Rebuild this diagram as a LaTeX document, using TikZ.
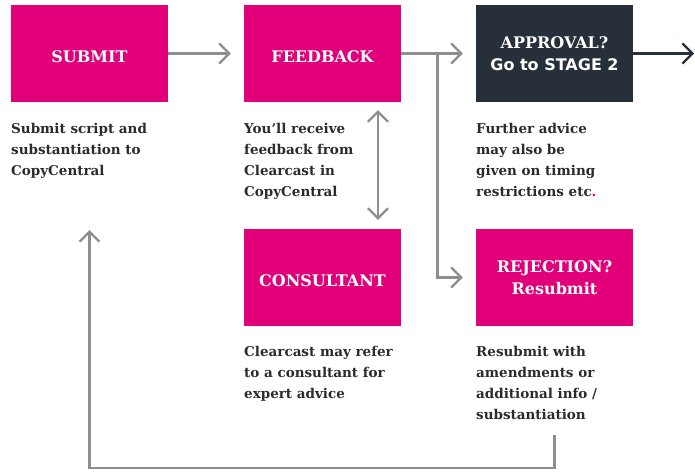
\documentclass[tikz,border=0pt]{standalone}
\usepackage{fontspec}
\setmainfont{DejaVu Serif}
\newfontfamily\stagesans{DejaVu Sans}
\usetikzlibrary{arrows.meta}

\definecolor{ccpink}{HTML}{E2007A}
\definecolor{ccdark}{HTML}{262F3A}
\definecolor{ccgrey}{HTML}{8E8E92}
\definecolor{cctext}{HTML}{2B2B2B}

\tikzset{
  stagebox/.style={fill=ccpink, text=white, minimum width=157pt,
    minimum height=97pt, inner sep=0pt, align=center,
    font=\bfseries\fontsize{16}{21.5}\selectfont,
    execute at begin node={\rule{0pt}{19pt}}},
  notetext/.style={anchor=north west, inner sep=0pt, align=left,
    text=cctext, font=\bfseries\fontsize{13.5}{21}\selectfont},
  flow/.style={draw=ccgrey, line width=2.3pt,
    -{Straight Barb[length=10pt,width=20pt]}},
}

\begin{document}
\begin{tikzpicture}[x=1pt,y=-1pt]
  \useasboundingbox (0,0) rectangle (695,474);

  % the stages
  \node [stagebox] (submit) at (89.5,53.5) {SUBMIT};
  \node [stagebox] (feedback) at (322.5,53.5) {FEEDBACK};
  \node [stagebox, fill=ccdark] (approval) at (554.5,53.5)
    {APPROVAL?\\{\stagesans Go to STAGE 2}};
  \node [stagebox] (consultant) at (322.5,277.5) {CONSULTANT};
  \node [stagebox] (rejection) at (554.5,277.5) {REJECTION?\\Resubmit};

  % notes under each stage
  \node [notetext] (submitnote) at (11,123)
    {Submit script and\\substantiation to\\CopyCentral};
  \node [notetext] (feedbacknote) at (244,123)
    {You’ll receive\\feedback from\\Clearcast in\\CopyCentral};
  \node [notetext] (approvalnote) at (476,123)
    {Further advice\\may also be\\given on timing\\restrictions etc\textcolor{ccpink}{.}};
  \node [notetext] (consultantnote) at (244,346.5)
    {Clearcast may refer\\to a consultant for\\expert advice};
  \node [notetext] (rejectionnote) at (476,346.5)
    {Resubmit with\\amendments or\\additional info /\\substantiation};

  % free ends of the connectors
  \coordinate (split) at (437.5,53.5);
  \coordinate (stage2) at (694,53.5);
  \coordinate (back) at (554.5,435);
  \coordinate (resubmit) at (89.5,230);

  \draw [flow, shorten >=13pt] (submit.east) -- (feedback.west);
  \draw [flow, shorten >=13pt] (feedback.east) -- (approval.west);
  \draw [flow, shorten >=13pt] (split) |- (rejection.west);
  \draw [flow, draw=ccdark] (approval.east) -- (stage2);
  \draw [flow, {Straight Barb[length=10pt,width=20pt]}-{Straight Barb[length=10pt,width=20pt]},
         shorten <=8pt, shorten >=9pt]
    ([xshift=55.5pt]feedback.south) -- ([xshift=55.5pt]consultant.north);
  \draw [flow] (back) -- (back |- 0,468) -| (resubmit);
\end{tikzpicture}
\end{document}
